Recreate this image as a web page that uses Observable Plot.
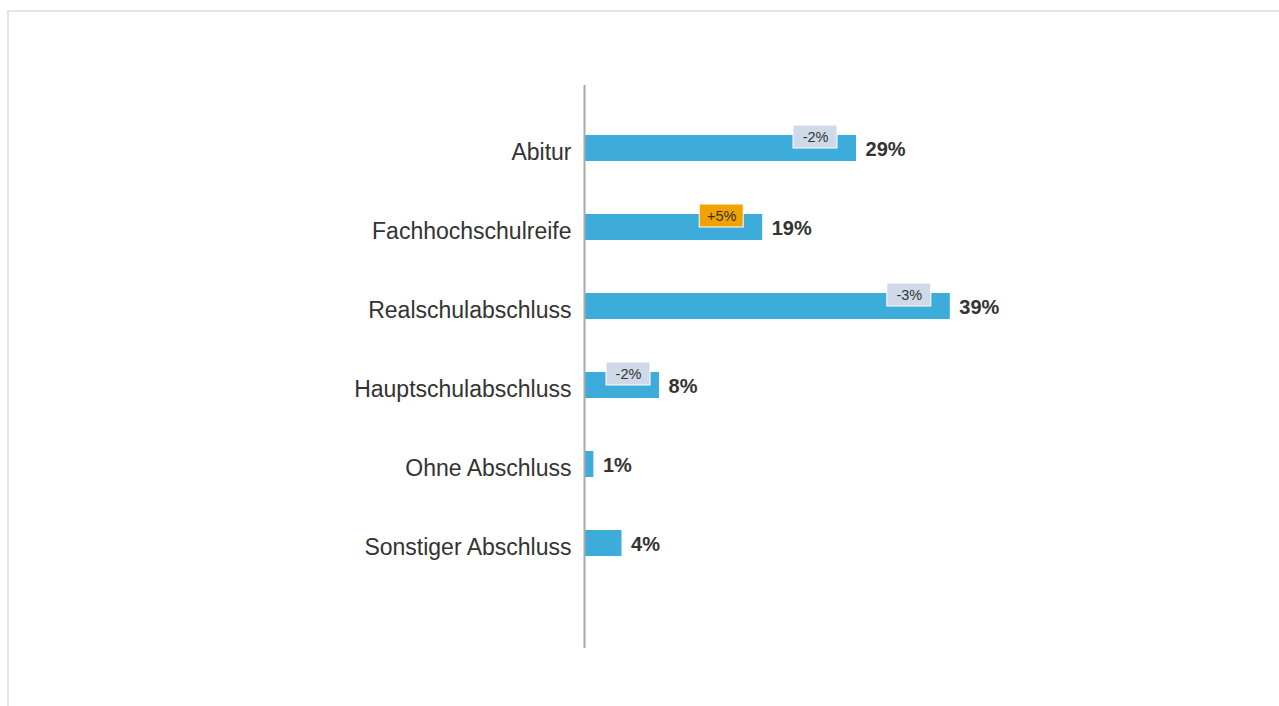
<!DOCTYPE html>
<html>
<head>
<meta charset="utf-8">
<script src="https://cdn.jsdelivr.net/npm/d3@7"></script>
<script src="https://cdn.jsdelivr.net/npm/@observablehq/plot@0.6"></script>
<style>
  html, body { margin: 0; padding: 0; background: #fff; overflow: hidden; }
  #frame { position: absolute; left: 7px; top: 10px; width: 1300px; height: 800px;
           border-top: 2px solid #e4e4e4; border-left: 2px solid #e4e4e4; box-sizing: border-box; }
  #chart { position: absolute; left: 0; top: 0; }
</style>
</head>
<body>
<div id="frame"></div>
<div id="chart"></div>
<script>
const categories = ["Abitur", "Fachhochschulreife", "Realschulabschluss", "Hauptschulabschluss", "Ohne Abschluss", "Sonstiger Abschluss"];
const values = [29, 19, 39, 8, 1, 4];
const changes = [-2, 5, -3, -2, null, null];
const changeLabels = ["-2%", "+5%", "-3%", "-2%", null, null];

const W = 1279, H = 706, ML = 584, MR = 226, XMAX = 50;
const pxPerUnit = (W - ML - MR) / XMAX;

const data = categories.map((c, i) => ({cat: c, value: values[i], change: changes[i], changeLabel: changeLabels[i]}));
// badge centre: 41px left of the bar end, but never closer than 44px to the axis
const badges = data.filter(d => d.change !== null)
  .map(d => ({...d, bx: Math.max(d.value - 41 / pxPerUnit, 44 / pxPerUnit)}));

const chart = Plot.plot({
  width: W,
  height: H,
  marginLeft: ML,
  marginRight: MR,
  marginTop: 85,
  marginBottom: 58,
  style: {background: "transparent", fontFamily: "'Liberation Sans', Arial, sans-serif"},
  x: {domain: [0, XMAX], axis: null},
  y: {domain: categories, range: [108.5, 582.5], paddingInner: 0.67, paddingOuter: 0.335, align: 0.5, axis: null},
  marks: [
    Plot.barX(data, {x: "value", y: "cat", fill: "#3eacdb"}),
    Plot.ruleX([0], {stroke: "#a9a9a9", strokeWidth: 2}),
    Plot.axisY({tickSize: 0, tickPadding: 13, fontSize: 23, fill: "#333", dy: 4, label: null}),
    Plot.text(data, {x: "value", y: "cat", text: d => d.value + "%", textAnchor: "start", dx: 9, dy: 1,
      fontSize: 20, fontWeight: "bold", fill: "#333", letterSpacing: "0.5px"}),
    Plot.rect(badges, {x1: "bx", x2: "bx", y: "cat", insetLeft: -22, insetRight: -22,
      insetTop: -10, insetBottom: 13,
      fill: d => d.change > 0 ? "#f0a200" : "#d0d9e7", stroke: "#fff", strokeWidth: 1}),
    Plot.text(badges, {x: "bx", y: "cat", text: "changeLabel", dy: -11.5,
      fontSize: 14.5, fill: "#333"})
  ]
});
document.getElementById("chart").appendChild(chart);
</script>
</body>
</html>
